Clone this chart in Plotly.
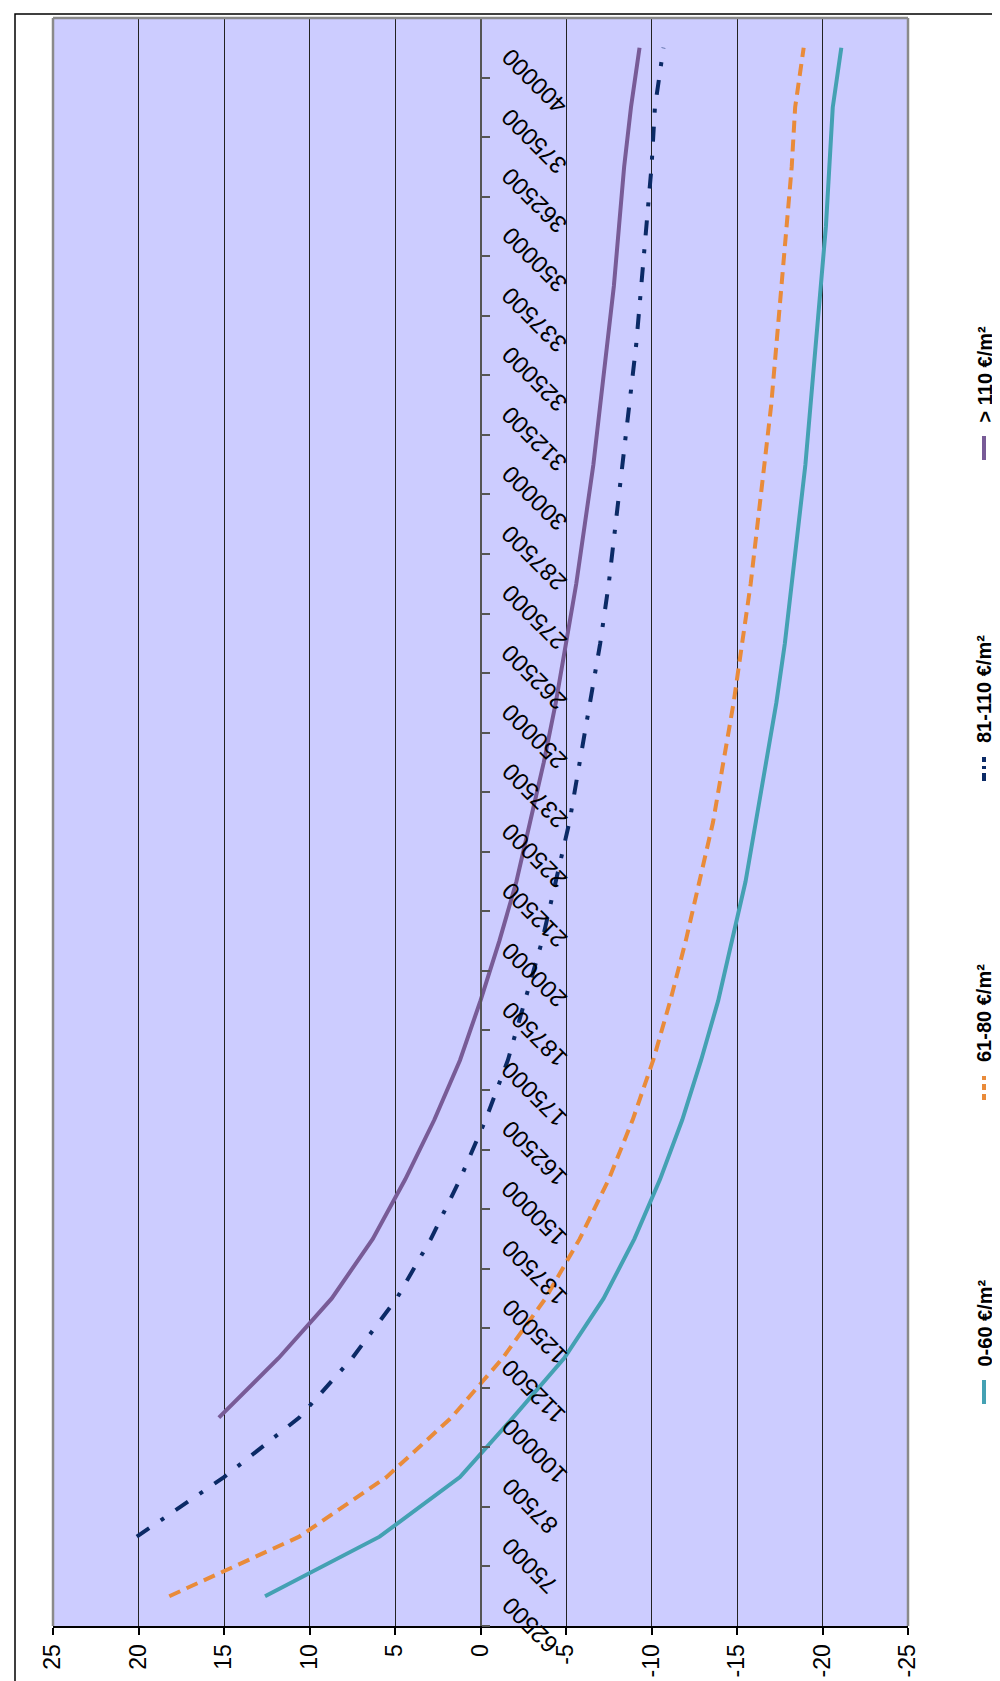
import plotly.graph_objects as go

# ---------------- data ----------------
categories = ["62500", "75000", "87500", "100000", "112500", "125000", "137500",
              "150000", "162500", "175000", "187500", "200000", "212500", "225000",
              "237500", "250000", "262500", "275000", "287500", "300000", "312500",
              "325000", "337500", "350000", "362500", "375000", "400000"]

v_0_60 = [12.6, 5.9, 1.2, -1.9, -4.9, -7.2, -9.0, -10.5, -11.8, -12.9, -13.9, -14.7,
          -15.5, -16.1, -16.7, -17.3, -17.8, -18.2, -18.6, -19.0, -19.3, -19.6, -19.9,
          -20.2, -20.4, -20.6, -21.1]
v_61_80 = [18.2, 10.6, 5.5, 1.7, -1.3, -3.8, -5.8, -7.5, -8.9, -10.1, -11.1, -12.0,
           -12.8, -13.6, -14.2, -14.8, -15.3, -15.8, -16.2, -16.6, -17.0, -17.3, -17.6,
           -17.9, -18.2, -18.4, -18.9]
v_81_110 = [None, 20.1, 15.0, 10.6, 7.5, 4.9, 2.9, 1.2, -0.3, -1.6, -2.6, -3.6,
            -4.4, -5.2, -5.8, -6.4, -7.0, -7.5, -7.9, -8.3, -8.7, -9.1, -9.4,
            -9.7, -10.0, -10.2, -10.7]
v_110_plus = [None, None, None, 15.3, 11.8, 8.7, 6.3, 4.4, 2.7, 1.2, 0.0, -1.1,
              -2.1, -2.9, -3.7, -4.4, -5.0, -5.6, -6.1, -6.6, -7.0, -7.4, -7.8,
              -8.1, -8.4, -8.8, -9.3]

series_names = ["0-60 €/m²", "61-80 €/m²", "81-110 €/m²", "> 110 €/m²"]
value_ticks = [25, 20, 15, 10, 5, 0, -5, -10, -15, -20, -25]

# ---------------- styles ----------------
series_values = [v_0_60, v_61_80, v_81_110, v_110_plus]
colors = ["#44A1B3", "#E98B3A", "#0B2A66", "#785B97"]
dashes = ["solid", "12px,7px", "15px,14px,4px,14px", "solid"]
legend_dashes = ["solid", "6px,4px", "8px,4px,3px,4px", "solid"]

W, H = 1000, 1681
ML, MR, MT, MB = 45, 100, 10, 63
PW, PH = W - ML - MR, H - MT - MB


def px_x(px):
    return (px - ML) / PW


def px_y(py):
    return (H - MB - py) / PH


FONT = "Liberation Sans, Arial, sans-serif"

fig = go.Figure()
for name, vals, col, dsh in zip(series_names, series_values, colors, dashes):
    fig.add_trace(go.Scatter(
        x=vals, y=categories, mode="lines", name=name,
        line=dict(color=col, width=4, dash=dsh),
        showlegend=False, connectgaps=False,
    ))

shapes = []
# plot area border (left, top, right) in grey
for x0, y0, x1, y1 in [(0, 0, 0, 1), (0, 1, 1, 1), (1, 0, 1, 1)]:
    shapes.append(dict(type="line", xref="paper", yref="paper", x0=x0, y0=y0, x1=x1, y1=y1,
                       line=dict(color="#8a8a8a", width=2.5), layer="above"))
# outer chart border
shapes.append(dict(type="rect", xref="paper", yref="paper",
                   x0=px_x(7), x1=px_x(996), y0=px_y(1676), y1=px_y(6),
                   line=dict(color="black", width=1.5), layer="above"))

annotations = []
# category labels, placed along the category axis at value 0
for i, c in enumerate(categories):
    annotations.append(dict(
        x=0, y=i, xref="x", yref="y", text=c, showarrow=False,
        textangle=-135, xanchor="left", yanchor="top", xshift=13, yshift=7,
        font=dict(family=FONT, size=24, color="black"),
    ))

# legend (rotated) : sample line + text
legend_sample_centers = [1384, 1080, 761, 440]
for name, col, dsh, cy in zip(series_names, colors, legend_dashes, legend_sample_centers):
    shapes.append(dict(type="line", xref="paper", yref="paper",
                       x0=px_x(976), x1=px_x(976), y0=px_y(cy + 12), y1=px_y(cy - 12),
                       line=dict(color=col, width=4, dash=dsh)))
    annotations.append(dict(
        x=px_x(976), y=px_y(cy - 24), xref="paper", yref="paper", text="<b>" + name + "</b>",
        showarrow=False, textangle=-90, xanchor="center", yanchor="bottom",
        font=dict(family=FONT, size=20, color="black"),
    ))

fig.update_layout(
    width=W, height=H,
    margin=dict(l=ML, r=MR, t=MT, b=MB, pad=0),
    paper_bgcolor="white", plot_bgcolor="#CCCCFF",
    font=dict(family=FONT, color="black"),
    showlegend=False,
    shapes=shapes, annotations=annotations,
    xaxis=dict(
        range=[25, -25], autorange=False, tickvals=value_ticks,
        ticktext=[str(v) for v in value_ticks],
        showgrid=True, gridcolor="#222222", gridwidth=1,
        zeroline=False, showline=True, linecolor="black", linewidth=2,
        ticks="outside", ticklen=7, tickwidth=1.5, tickcolor="black",
        tickangle=-90, tickfont=dict(family=FONT, size=23, color="black"),
        domain=[0, 1],
    ),
    yaxis=dict(
        type="category", categoryorder="array", categoryarray=categories,
        range=[-0.5, len(categories) - 0.5], autorange=False,
        anchor="free", position=0.5, side="right",
        showgrid=False, zeroline=False,
        showline=True, linecolor="#555555", linewidth=2,
        ticks="outside", ticklen=8, tickwidth=2, tickcolor="#555555",
        tickson="boundaries", showticklabels=False,
    ),
)

fig.write_html("out.html")
